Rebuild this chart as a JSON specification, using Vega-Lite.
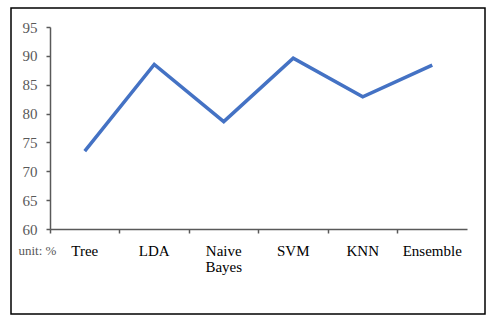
{
  "$schema": "https://vega.github.io/schema/vega-lite/v6.json",
  "width": 474,
  "height": 306,
  "padding": {"left": 11, "top": 8, "right": 11, "bottom": 8},
  "autosize": {"type": "none"},
  "background": "white",
  "config": {
    "view": {"stroke": "#000000", "strokeWidth": 1.5},
    "font": "Liberation Serif"
  },
  "data": {
    "values": [
      {"model": "Tree", "acc": 73.5},
      {"model": "LDA", "acc": 88.5},
      {"model": "Naive Bayes", "acc": 78.6},
      {"model": "SVM", "acc": 89.6},
      {"model": "KNN", "acc": 82.9},
      {"model": "Ensemble", "acc": 88.4}
    ]
  },
  "mark": {"type": "line", "color": "#4472C4", "strokeWidth": 3.5, "strokeJoin": "miter"},
  "encoding": {
    "x": {
      "field": "model",
      "type": "nominal",
      "sort": null,
      "scale": {"type": "band", "range": [39, 456], "paddingInner": 0, "paddingOuter": 0},
      "axis": {
        "title": null,
        "offset": -85,
        "bandPosition": 0,
        "labelAngle": 0,
        "labelFont": "Liberation Serif",
        "labelFontSize": 15,
        "labelColor": "#000000",
        "labelPadding": 10,
        "labelLineHeight": 16,
        "labelExpr": "split(datum.label, ' ')",
        "domainColor": "#595959",
        "domainWidth": 1.5,
        "tickColor": "#595959",
        "tickWidth": 1.5,
        "tickSize": 4,
        "ticks": true,
        "grid": false
      }
    },
    "y": {
      "field": "acc",
      "type": "quantitative",
      "scale": {"domain": [60, 95], "range": [221, 19], "nice": false, "zero": false},
      "axis": {
        "offset": -39,
        "values": [60, 65, 70, 75, 80, 85, 90, 95],
        "labelFont": "Liberation Serif",
        "labelFontSize": 15,
        "labelColor": "#595959",
        "labelPadding": 9,
        "domainColor": "#595959",
        "domainWidth": 1.5,
        "tickColor": "#595959",
        "tickWidth": 1.5,
        "tickSize": 4,
        "grid": false,
        "title": "unit: %",
        "titleAngle": 0,
        "titleFont": "Liberation Serif",
        "titleFontSize": 13,
        "titleFontWeight": "normal",
        "titleColor": "#595959",
        "titleAlign": "left",
        "titleBaseline": "alphabetic",
        "titleX": -32,
        "titleY": 246
      }
    }
  }
}
